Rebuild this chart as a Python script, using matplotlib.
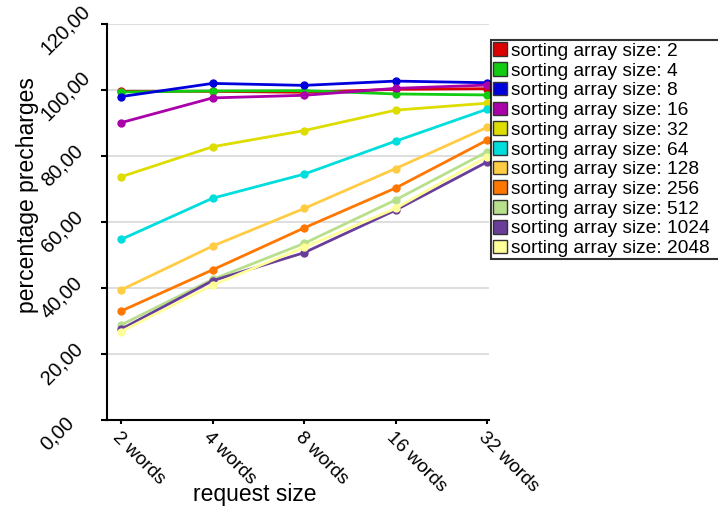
import matplotlib
matplotlib.use("Agg")
import matplotlib.pyplot as plt
from matplotlib.patches import Patch

plt.rcParams["font.family"] = ["Liberation Sans", "DejaVu Sans"]

categories = ["2 words", "4 words", "8 words", "16 words", "32 words"]
series_names = ["sorting array size: 2", "sorting array size: 4", "sorting array size: 8",
                "sorting array size: 16", "sorting array size: 32", "sorting array size: 64",
                "sorting array size: 128", "sorting array size: 256", "sorting array size: 512",
                "sorting array size: 1024", "sorting array size: 2048"]
size_2 = [99.6, 99.6, 99.3, 100.2, 100.4]
size_4 = [99.4, 99.7, 99.8, 98.8, 98.5]
size_8 = [98.0, 102.0, 101.4, 102.7, 102.2]
size_16 = [90.1, 97.6, 98.4, 100.5, 101.5]
size_32 = [73.7, 82.8, 87.7, 93.9, 96.0]
size_64 = [54.7, 67.2, 74.5, 84.5, 94.2]
size_128 = [39.4, 52.7, 64.1, 76.2, 88.7]
size_256 = [33.0, 45.5, 58.2, 70.3, 84.8]
size_512 = [28.8, 42.6, 53.5, 66.7, 81.3]
size_1024 = [27.5, 42.2, 50.7, 63.6, 78.2]
size_2048 = [26.8, 40.9, 52.3, 64.1, 79.8]
series_values = [size_2, size_4, size_8, size_16, size_32, size_64,
                 size_128, size_256, size_512, size_1024, size_2048]
colors = ["#dd0000", "#11cc11", "#0000dd", "#aa00aa", "#dddd00", "#00dddd",
          "#ffcc44", "#ff7700", "#b8e08c", "#6a3d9a", "#ffff99"]
y_ticks = [0, 20, 40, 60, 80, 100, 120]
y_tick_labels = ["0,00", "20,00", "40,00", "60,00", "80,00", "100,00", "120,00"]

fig = plt.figure(figsize=(7.18, 5.08), dpi=100)
ax = fig.add_axes([107 / 718, 1 - 420 / 508, (489 - 107) / 718, (420 - 24) / 508])

x = list(range(len(categories)))
for vals, col in zip(series_values, colors):
    ax.plot(x, vals, color=col, linewidth=2.0, marker="o", markersize=5,
            clip_on=False, zorder=3)

ax.set_xlim(-0.153, 4.02)
ax.set_ylim(0, 120)
ax.set_yticks(y_ticks)
ax.set_yticklabels([])
# value labels start at a common left edge and run up at 45 degrees
for v, lab in zip(y_ticks, y_tick_labels):
    ax.annotate(lab, xy=(0, v), xycoords=ax.get_yaxis_transform(),
                xytext=(-63 * 0.72, -27 * 0.72), textcoords="offset points",
                rotation=45, rotation_mode="anchor", ha="left", va="center",
                fontsize=14.5, annotation_clip=False)
ax.set_xticks(x)
ax.set_xticklabels(categories, rotation=-45, ha="left", va="top",
                   rotation_mode="anchor", fontsize=13.7)
ax.tick_params(axis="x", direction="out", length=3, width=1.5, color="black", pad=3)
ax.tick_params(axis="y", direction="out", length=4, width=1.5, color="black")
ax.yaxis.grid(True, color="#d8d8d8", linewidth=1.2)
ax.set_axisbelow(True)
for side in ("top", "right"):
    ax.spines[side].set_visible(False)
for side in ("left", "bottom"):
    ax.spines[side].set_linewidth(1.5)

fig.text(28 / 718, 1 - 195 / 508, "percentage precharges", rotation=90,
         ha="center", va="center", fontsize=16.5)
fig.text(255 / 718, 1 - 495 / 508, "request size", ha="center", va="center",
         fontsize=16.5)

handles = [Patch(facecolor=c, edgecolor="#333333", linewidth=1.0) for c in colors]
leg = fig.legend(handles, series_names, loc="upper left",
                 bbox_to_anchor=(491 / 718, 1 - 40 / 508, 240 / 718, 0),
                 mode="expand", fontsize=13.8,
                 frameon=True, fancybox=False, borderpad=0.12, labelspacing=0.115,
                 handlelength=0.72, handleheight=0.72, handletextpad=0.2,
                 borderaxespad=0)
leg.get_frame().set_edgecolor("black")
leg.get_frame().set_linewidth(1.5)

fig.savefig("out.png", dpi=100)
